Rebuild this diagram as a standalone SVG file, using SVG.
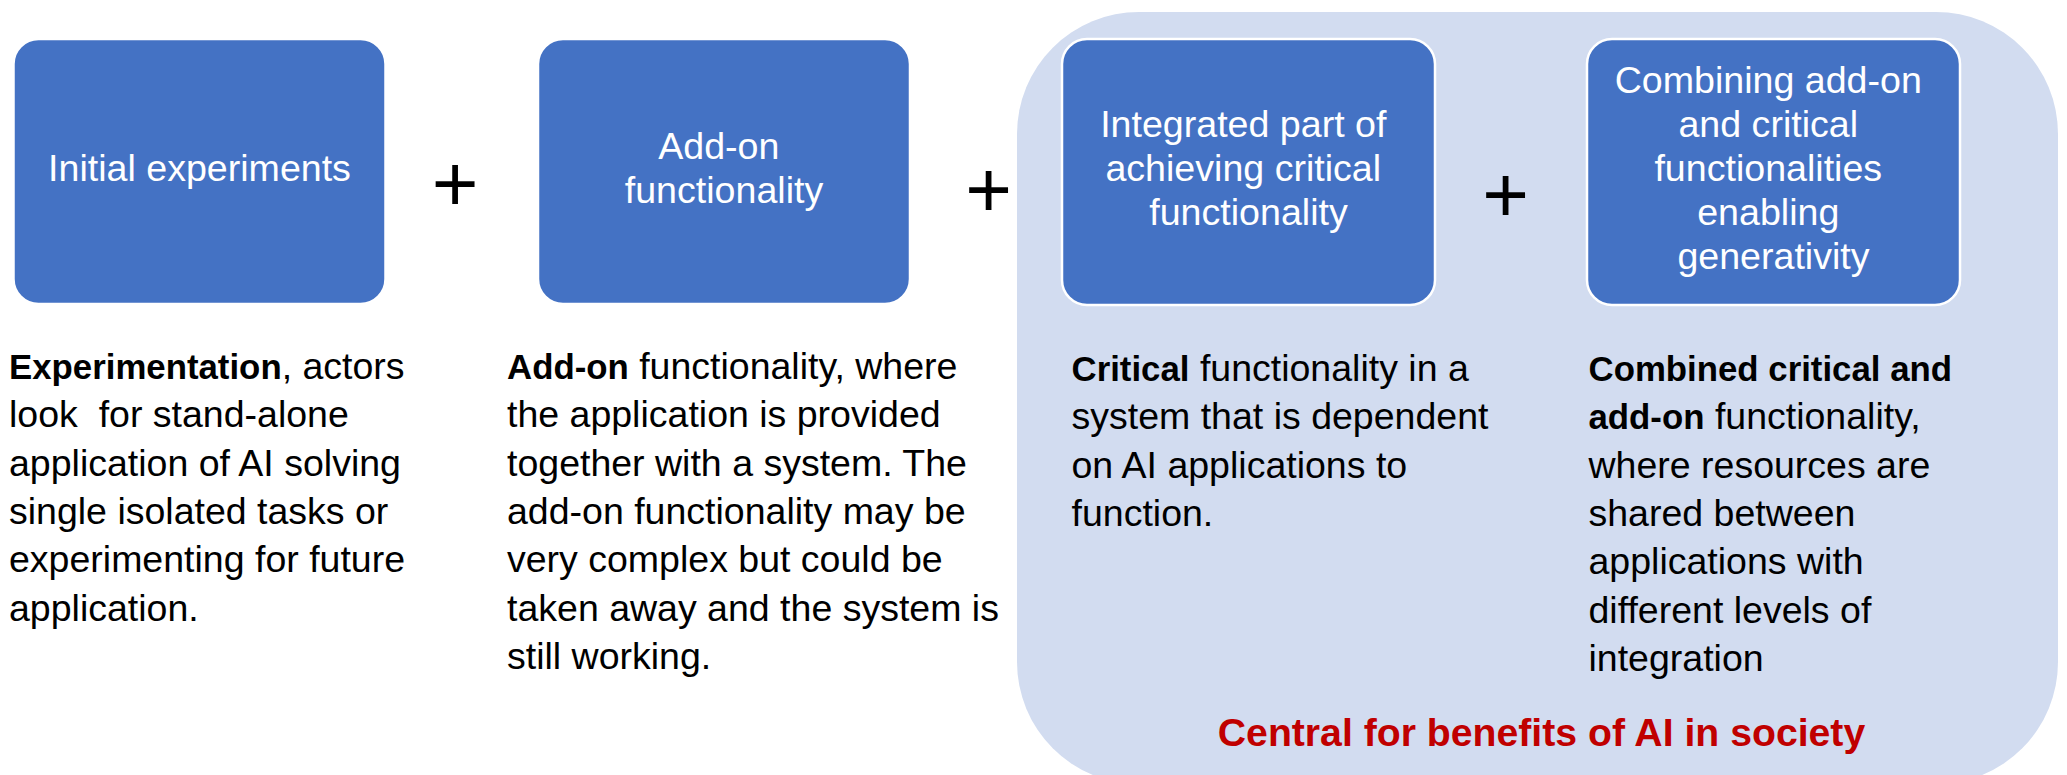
<svg xmlns="http://www.w3.org/2000/svg" width="2067" height="775" viewBox="0 0 2067 775">
  <style>
    .stage { fill: #4472C4; stroke: #FFFFFF; stroke-width: 2.5; }
    .stage-label { font-family: "Liberation Sans", Arial, sans-serif; font-size: 37.6px; fill: #FFFFFF; text-anchor: middle; }
    .body { font-family: "Liberation Sans", Arial, sans-serif; font-size: 37.5px; fill: #000000; white-space: pre; }
    .body .b { font-weight: bold; font-size: 34.8px; }
    .plus { font-family: "Liberation Sans", Arial, sans-serif; font-size: 80px; fill: #000000; text-anchor: middle; }
    .panel { fill: #D2DCF0; }
    .tagline { font-family: "Liberation Sans", Arial, sans-serif; font-weight: bold; font-size: 39.2px; fill: #C00000; text-anchor: middle; }
  </style>

  <!-- shaded panel grouping the two integrated stages -->
  <g id="society-panel">
    <rect class="panel" x="1017" y="12" width="1041" height="772" rx="122" ry="122"/>
    <text class="tagline" x="1541.5" y="746">Central for benefits of AI in society</text>
  </g>

  <!-- stage 1 -->
  <g id="stage-experiments">
    <rect class="stage" x="13.5" y="39" width="372" height="265" rx="25" ry="25"/>
    <text class="stage-label" x="199.5" y="181">Initial experiments</text>
    <text class="body" xml:space="preserve">
      <tspan x="9" y="379"><tspan class="b">Experimentation</tspan>, actors</tspan>
      <tspan x="9" y="427.3">look  for stand-alone</tspan>
      <tspan x="9" y="475.6">application of AI solving</tspan>
      <tspan x="9" y="523.9">single isolated tasks or</tspan>
      <tspan x="9" y="572.2">experimenting for future</tspan>
      <tspan x="9" y="620.5">application.</tspan>
    </text>
  </g>

  <!-- stage 2 -->
  <g id="stage-addon">
    <rect class="stage" x="538" y="39" width="372" height="265" rx="25" ry="25"/>
    <text class="stage-label">
      <tspan x="724" y="159">Add-on</tspan>
      <tspan x="724" y="203">functionality</tspan>
    </text>
    <text class="body">
      <tspan x="507" y="379"><tspan class="b">Add-on</tspan> functionality, where</tspan>
      <tspan x="507" y="427.3">the application is provided</tspan>
      <tspan x="507" y="475.6">together with a system. The</tspan>
      <tspan x="507" y="523.9">add-on functionality may be</tspan>
      <tspan x="507" y="572.2">very complex but could be</tspan>
      <tspan x="507" y="620.5">taken away and the system is</tspan>
      <tspan x="507" y="668.8">still working.</tspan>
    </text>
  </g>

  <!-- stage 3 -->
  <g id="stage-critical">
    <rect class="stage" x="1062" y="39" width="373" height="266" rx="25" ry="25"/>
    <text class="stage-label">
      <tspan x="1248.5" y="137">Integrated part of</tspan>
      <tspan x="1248.5" y="181">achieving critical</tspan>
      <tspan x="1248.5" y="225">functionality</tspan>
    </text>
    <text class="body">
      <tspan x="1071.5" y="381"><tspan class="b">Critical</tspan> functionality in a</tspan>
      <tspan x="1071.5" y="429.3">system that is dependent</tspan>
      <tspan x="1071.5" y="477.6">on AI applications to</tspan>
      <tspan x="1071.5" y="525.9">function.</tspan>
    </text>
  </g>

  <!-- stage 4 -->
  <g id="stage-combined">
    <rect class="stage" x="1587" y="39" width="373" height="266" rx="25" ry="25"/>
    <text class="stage-label">
      <tspan x="1773.5" y="93">Combining add-on</tspan>
      <tspan x="1773.5" y="137">and critical</tspan>
      <tspan x="1773.5" y="181">functionalities</tspan>
      <tspan x="1773.5" y="225">enabling</tspan>
      <tspan x="1773.5" y="269">generativity</tspan>
    </text>
    <text class="body">
      <tspan x="1588.5" y="381" class="b">Combined critical and</tspan>
      <tspan x="1588.5" y="429.3"><tspan class="b">add-on</tspan> functionality,</tspan>
      <tspan x="1588.5" y="477.6">where resources are</tspan>
      <tspan x="1588.5" y="525.9">shared between</tspan>
      <tspan x="1588.5" y="574.2">applications with</tspan>
      <tspan x="1588.5" y="622.5">different levels of</tspan>
      <tspan x="1588.5" y="670.8">integration</tspan>
    </text>
  </g>

  <!-- plus operators between stages -->
  <g id="connectors">
    <text class="plus" x="455" y="211">+</text>
    <text class="plus" x="988.5" y="217">+</text>
    <text class="plus" x="1505.5" y="222">+</text>
  </g>
</svg>
